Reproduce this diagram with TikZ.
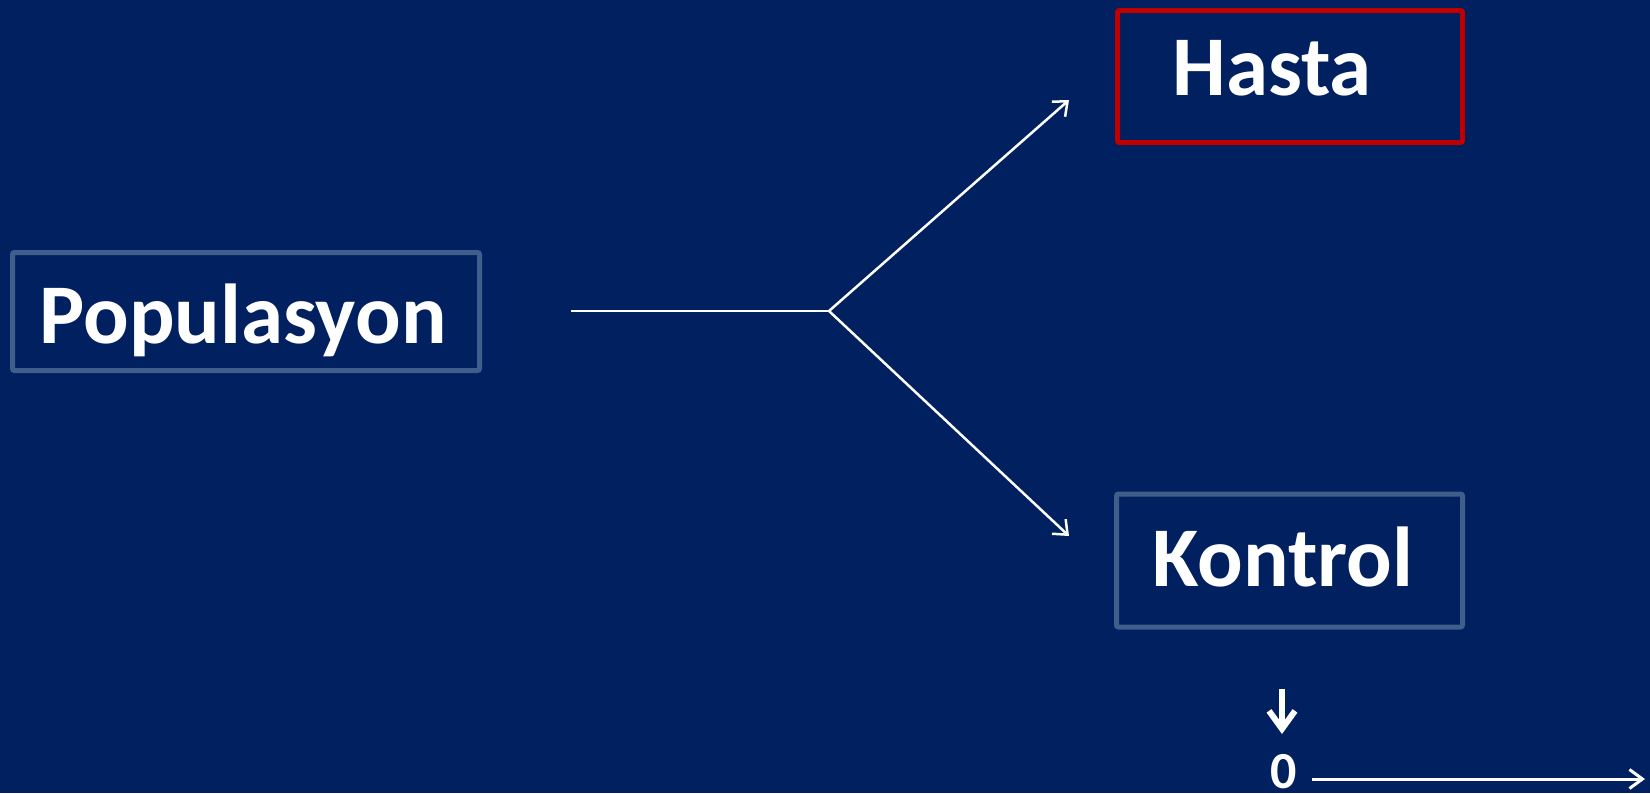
\documentclass[tikz,border=0pt]{standalone}
\usepackage{fontspec}
\setmainfont{Carlito}
\usetikzlibrary{arrows.meta,positioning}
\definecolor{navy}{HTML}{002060}
\definecolor{framegray}{RGB}{64,94,138}
\definecolor{hastared}{HTML}{C00000}

\begin{document}
\begin{tikzpicture}[x=1pt, y=-1pt,
  box/.style = {draw=framegray, line width=5pt, rounded corners=2pt, minimum width=346pt, minimum height=133pt, inner sep=0pt},
  redbox/.style = {box, draw=hastared},
  bigword/.style = {text=white, font=\fontsize{85}{90}\selectfont\bfseries, inner sep=0pt, anchor=base},
  smallword/.style = {text=white, font=\fontsize{52}{60}\selectfont\bfseries, inner sep=0pt, anchor=base},
  branch/.style = {white, line width=2.5pt},
  >={Straight Barb[length=12pt, width=20pt]}]
        \fill[navy] (0,0) rectangle (1650,793);
        \useasboundingbox (0,0) rectangle (1650,793);
        % boxes
        \node[box, minimum width=467pt, minimum height=118pt] (pop) at (246,311.5) {};
        \node[redbox, minimum width=345pt, minimum height=132pt] (hasta) at (1290,76.5) {};
        \node[box] (kontrol) at (1289.5,560.5) {};
        \node[bigword] (poptext) at (243,343) {Populasyon};
        \node[bigword] (hastatext) at (1272,95) {Hasta};
        \node[bigword] (kontroltext) at (1283,586) {Kontrol};
        % split
        \coordinate (start) at (571,311);
        \coordinate (split) at (829,311);
        \coordinate (uptip) at (1069,100);
        \coordinate (downtip) at (1069,536);
        \draw[branch] (start) -- (split);
        \draw[branch, ->] (split) -- (uptip);
        \draw[branch, ->] (split) -- (downtip);
        % time axis
        \node[smallword] (zero) at (1283.5,788) {0};
        \coordinate (ticktop) at (1282,689);
        \coordinate (ticktip) at (1282,734);
        \coordinate (axisstart) at (1312,779);
        \coordinate (axisend) at (1645,779);
        \draw[white, line width=6pt, -{Straight Barb[length=18pt, width=26pt]}] (ticktop) -- (ticktip);
        \draw[white, line width=3pt, -{Straight Barb[length=13pt, width=19pt]}] (axisstart) -- (axisend);
\end{tikzpicture}
\end{document}
